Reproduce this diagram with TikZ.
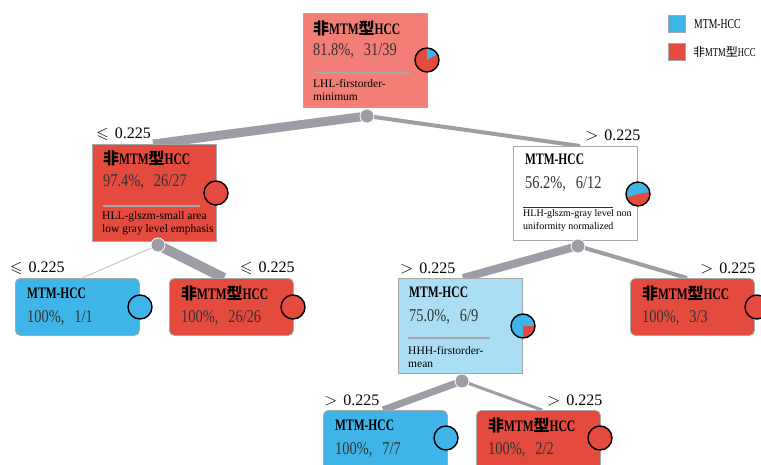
\documentclass[tikz,border=0pt]{standalone}
\usepackage{fontspec}
\usepackage{amssymb}
\usetikzlibrary{calc}
\setmainfont{Liberation Serif}
\newfontfamily\cjk{Noto Sans CJK SC}
\newfontfamily\titlef[FakeStretch=0.72]{Liberation Serif}
\newfontfamily\statf[FakeStretch=0.8]{Liberation Serif}
\definecolor{cblue}{HTML}{3FB4E8}
\definecolor{cred}{HTML}{E44A3D}
\definecolor{csalmon}{HTML}{F27E75}
\definecolor{clblue}{HTML}{ABDEF5}
\definecolor{cedge}{HTML}{9C9DA5}
\definecolor{cthin}{HTML}{C4C5CA}
\definecolor{cborder}{HTML}{A8A8A8}
\definecolor{ctext}{HTML}{333333}
\newcommand{\nonmtm}{{\cjk\bfseries 非}MTM{\cjk\bfseries 型}HCC}
\newcommand{\mypie}[1]{\draw[black, line width=1.4pt] #1 circle (12);}
\tikzset{
  box/.style={draw=cborder, line width=0.8pt, anchor=north west, minimum width=124pt, inner sep=0pt},
  leaf/.style={box, rounded corners=5pt, minimum height=57pt},
  inner/.style={box, minimum height=95pt},
  ttl/.style={anchor=west, inner sep=0pt, font=\titlef\bfseries\fontsize{16}{16}\selectfont},
  stat/.style={anchor=west, inner sep=0pt, text=ctext, font=\statf\fontsize{18}{18}\selectfont},
  feat/.style={anchor=north west, inner sep=0pt, align=left, font=\fontsize{11.5}{13.5}\selectfont},
  sep/.style={draw=cborder, line width=1.5pt},
  lbl/.style={inner sep=0pt, font=\fontsize{16}{16}\selectfont},
  edge/.style={draw=cedge},
  dot/.style={circle, fill=cedge, draw=white, line width=0.8pt, minimum size=14pt, inner sep=0pt},
  lgtxt/.style={anchor=west, inner sep=0pt, font=\titlef\fontsize{13.5}{13.5}\selectfont}
}
\begin{document}
\begin{tikzpicture}[x=1pt, y=-1pt]
\useasboundingbox (0,0) rectangle (761,464);
% dot and edge end coordinates
\coordinate (d0) at (367,116);
\coordinate (d1) at (158,245);
\coordinate (d2) at (578,246);
\coordinate (d3) at (462,381);
\coordinate (eL) at (153,144);
\coordinate (eR) at (580,146);
\coordinate (eLL) at (82,278);
\coordinate (eLR) at (224,278);
\coordinate (eRL) at (463,278);
\coordinate (eRR) at (687,278);
\coordinate (eB1) at (383,410);
\coordinate (eB2) at (542,410);
% edges
\draw[edge, line width=9pt] (d0) -- (eL);
\draw[edge, line width=4pt] (d0) -- (eR);
\draw[draw=cthin, line width=1pt] (d1) -- (eLL);
\draw[edge, line width=10pt] (d1) -- (eLR);
\draw[edge, line width=8pt] (d2) -- (eRL);
\draw[edge, line width=4pt] (d2) -- (eRR);
\draw[edge, line width=7pt] (d3) -- (eB1);
\draw[edge, line width=3pt] (d3) -- (eB2);
% boxes
\node[inner, fill=csalmon, minimum height=94pt] (root) at (303,13) {};
\node[inner, fill=cred, minimum height=97pt] (nl) at (92,144) {};
\node[inner, fill=white, minimum height=94pt] (nr) at (513,146) {};
\node[leaf, fill=cblue] (ll) at (15,278) {};
\node[leaf, fill=cred] (lr) at (169,278) {};
\node[inner, fill=clblue] (rl) at (398,278) {};
\node[leaf, fill=cred] (rr) at (630,278) {};
\node[leaf, fill=cblue, minimum height=70pt] (b1) at (323,410) {};
\node[leaf, fill=cred, minimum height=70pt] (b2) at (476,410) {};
% root texts
\node[ttl] (root-t) at ($(root.north west)+(10,15)$) {\nonmtm};
\node[stat] (root-s) at ($(root.north west)+(10,38)$) {81.8\%,\hspace{10pt}31/39};
\draw[sep] ($(root.north west)+(10,60)$) -- ($(root.north west)+(107,60)$);
\node[feat] (root-f) at ($(root.north west)+(10,66)$) {LHL-firstorder-\\minimum};
% left texts
\node[ttl] (nl-t) at ($(nl.north west)+(11,14)$) {\nonmtm};
\node[stat] (nl-s) at ($(nl.north west)+(11,38)$) {97.4\%,\hspace{10pt}26/27};
\draw[sep] ($(nl.north west)+(11,62)$) -- ($(nl.north west)+(108,62)$);
\node[feat] (nl-f) at ($(nl.north west)+(10,67)$) {HLL-glszm-small area\\low gray level emphasis};
% right texts
\node[ttl] (nr-t) at ($(nr.north west)+(12,13)$) {MTM-HCC};
\node[stat] (nr-s) at ($(nr.north west)+(12,38)$) {56.2\%,\hspace{10pt}6/12};
\draw[draw=ctext, line width=1pt] ($(nr.north west)+(10,61)$) -- ($(nr.north west)+(100,61)$);
\node[feat, font=\fontsize{10}{13}\selectfont] (nr-f) at ($(nr.north west)+(10,63)$) {HLH-glszm-gray level non\\uniformity normalized};
% RL texts
\node[ttl] (rl-t) at ($(rl.north west)+(11,14)$) {MTM-HCC};
\node[stat] (rl-s) at ($(rl.north west)+(11,39)$) {75.0\%,\hspace{10pt}6/9};
\draw[sep] ($(rl.north west)+(10,60)$) -- ($(rl.north west)+(92,60)$);
\node[feat] (rl-f) at ($(rl.north west)+(10,68)$) {HHH-firstorder-\\mean};
% leaves
\node[ttl] (ll-t) at ($(ll.north west)+(12,15)$) {MTM-HCC};
\node[stat] (ll-s) at ($(ll.north west)+(12,40)$) {100\%,\hspace{10pt}1/1};
\node[ttl] (lr-t) at ($(lr.north west)+(12,15)$) {\nonmtm};
\node[stat] (lr-s) at ($(lr.north west)+(12,40)$) {100\%,\hspace{10pt}26/26};
\node[ttl] (rr-t) at ($(rr.north west)+(12,15)$) {\nonmtm};
\node[stat] (rr-s) at ($(rr.north west)+(12,40)$) {100\%,\hspace{10pt}3/3};
\node[ttl] (b1-t) at ($(b1.north west)+(12,15)$) {MTM-HCC};
\node[stat] (b1-s) at ($(b1.north west)+(12,40)$) {100\%,\hspace{10pt}7/7};
\node[ttl] (b2-t) at ($(b2.north west)+(12,15)$) {\nonmtm};
\node[stat] (b2-s) at ($(b2.north west)+(12,40)$) {100\%,\hspace{10pt}2/2};
% dots
\node[dot] (n-d0) at (d0) {};
\node[dot] (n-d1) at (d1) {};
\node[dot] (n-d2) at (d2) {};
\node[dot] (n-d3) at (d3) {};
% pies
\begin{scope}[shift={(427,60)}, yscale=-1]
  \fill[cred] (0,0) circle (12);
  \fill[cblue] (0,0) -- (30:12) arc[start angle=30, end angle=90, radius=12] -- cycle;
  \mypie{(0,0)}
\end{scope}
\begin{scope}[shift={(216,193)}, yscale=-1]
  \fill[cred] (0,0) circle (12);
  \mypie{(0,0)}
\end{scope}
\begin{scope}[shift={(638,194)}, yscale=-1]
  \fill[cred] (0,0) circle (12);
  \fill[cblue] (0,0) -- (10:12) arc[start angle=10, end angle=196, radius=12] -- cycle;
  \mypie{(0,0)}
\end{scope}
\begin{scope}[shift={(523,326)}, yscale=-1]
  \fill[cblue] (0,0) circle (12);
  \fill[cred] (0,0) -- (-90:12) arc[start angle=-90, end angle=0, radius=12] -- cycle;
  \mypie{(0,0)}
\end{scope}
\begin{scope}[shift={(140,307)}, yscale=-1]
  \fill[cblue] (0,0) circle (12); \mypie{(0,0)}
\end{scope}
\begin{scope}[shift={(293,307)}, yscale=-1]
  \fill[cred] (0,0) circle (12); \mypie{(0,0)}
\end{scope}
\begin{scope}[shift={(757,307)}, yscale=-1]
  \fill[cred] (0,0) circle (12); \mypie{(0,0)}
\end{scope}
\begin{scope}[shift={(446,438)}, yscale=-1]
  \fill[cblue] (0,0) circle (12); \mypie{(0,0)}
\end{scope}
\begin{scope}[shift={(600,438)}, yscale=-1]
  \fill[cred] (0,0) circle (12); \mypie{(0,0)}
\end{scope}
% branch labels
\node[lbl, anchor=east] (l-nl) at (151,134) {$\leqslant$\hspace{6pt}0.225};
\node[lbl, anchor=west] (l-nr) at (585,135) {$>$\hspace{6pt}0.225};
\node[lbl, anchor=west] (l-ll) at (10,268) {$\leqslant$\hspace{6pt}0.225};
\node[lbl, anchor=west] (l-lr) at (240,268) {$\leqslant$\hspace{6pt}0.225};
\node[lbl, anchor=west] (l-rl) at (400,268) {$>$\hspace{6pt}0.225};
\node[lbl, anchor=west] (l-rr) at (700,268) {$>$\hspace{6pt}0.225};
\node[lbl, anchor=west] (l-b1) at (324,400) {$>$\hspace{6pt}0.225};
\node[lbl, anchor=west] (l-b2) at (547,400) {$>$\hspace{6pt}0.225};
% legend
\node[draw=cborder, fill=cblue, minimum size=17pt, inner sep=0pt, anchor=north west] (lg1) at (668,15) {};
\node[lgtxt] (lg1-t) at (694,24) {MTM-HCC};
\node[draw=cborder, fill=cred, minimum size=17pt, inner sep=0pt, anchor=north west] (lg2) at (668,43) {};
\node[lgtxt, font=\titlef\fontsize{12}{12}\selectfont] (lg2-t) at (693,52) {{\cjk 非}MTM{\cjk 型}HCC};
\end{tikzpicture}
\end{document}
